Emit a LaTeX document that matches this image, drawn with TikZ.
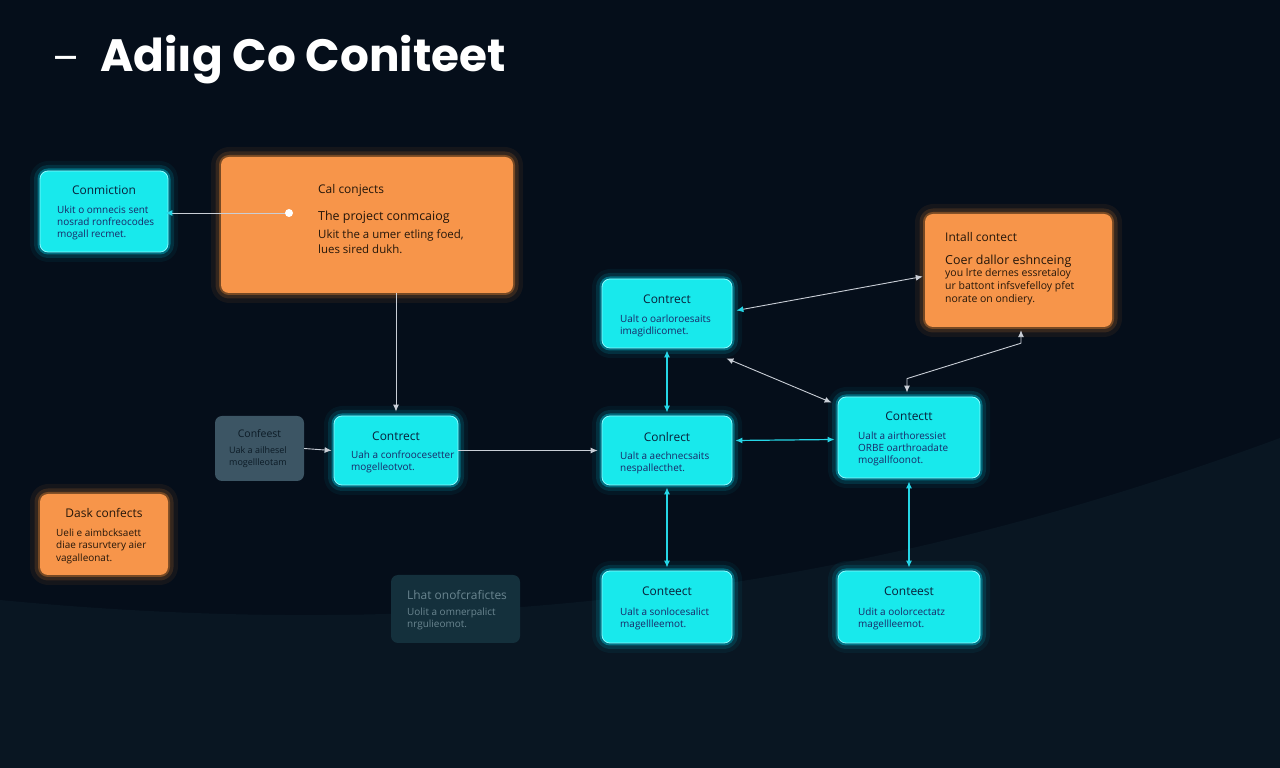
\documentclass[tikz,border=0pt]{standalone}
\usepackage{fontspec}
\setmainfont{Open Sans}
\newfontfamily\titlefont{Poppins}
\usetikzlibrary{arrows.meta}

\definecolor{bgnavy}{HTML}{050E1A}
\definecolor{bgwave}{HTML}{091622}
\definecolor{cyanfill}{HTML}{18E9EC}
\definecolor{cyanedge}{HTML}{8AFBFF}
\definecolor{cyanglow}{HTML}{00C8E0}
\definecolor{orangefill}{HTML}{F7954A}
\definecolor{orangeglow}{HTML}{F28A30}
\definecolor{slatefill}{HTML}{3C5564}
\definecolor{deepfill}{HTML}{14303C}
\definecolor{inkdark}{HTML}{08203A}
\definecolor{inkblue}{HTML}{182868}
\definecolor{inkbrown}{HTML}{24160A}
\definecolor{inkslate}{HTML}{0C1B26}
\definecolor{inkmuted}{HTML}{6A8590}
\definecolor{wirewhite}{HTML}{C9CED6}
\definecolor{wirecyan}{HTML}{25D6E6}

\begin{document}
\begin{tikzpicture}[>={Latex[length=7bp,width=6bp]},line join=bevel,
  cyanbox/.style={rounded corners=8bp,fill=cyanfill,draw=cyanedge,line width=0.8bp,inner sep=0pt,
    preaction={draw=cyanglow,line width=20bp,opacity=0.06},
    preaction={draw=cyanglow,line width=12bp,opacity=0.14},
    preaction={draw=cyanglow,line width=5bp,opacity=0.4}},
  orangebox/.style={rounded corners=8bp,fill=orangefill,inner sep=0pt,
    preaction={draw=orangeglow,line width=20bp,opacity=0.07},
    preaction={draw=orangeglow,line width=11bp,opacity=0.15},
    preaction={draw=orangeglow,line width=4bp,opacity=0.35}},
  slatebox/.style={rounded corners=7bp,fill=slatefill,inner sep=0pt},
  deepbox/.style={rounded corners=7bp,fill=deepfill,inner sep=0pt},
  boxtitle/.style={inner sep=0pt,font=\fontsize{12}{13}\selectfont},
  boxbody/.style={anchor=west,align=left,inner sep=0pt,font=\fontsize{10}{12}\selectfont},
  wire/.style={draw=wirewhite,line width=0.9bp},
  cyanwire/.style={draw=wirecyan,line width=1.2bp},
]
%%
\useasboundingbox (0,0) rectangle (1280bp,768bp);
\fill[bgnavy] (0,0) rectangle (1280bp,768bp);
\fill[bgwave] (0,0) -- (0bp,168bp) .. controls (500bp,120bp) and (900bp,190bp) .. (1280bp,330bp) -- (1280bp,0) -- cycle;
%
\node (title-dash) at (66bp,704bp) [inner sep=0pt,text=white,font=\titlefont\fontsize{40}{44}\selectfont] {–};
\node (title) at (100bp,696bp) [anchor=base west,inner sep=0pt,text=white,font=\titlefont\bfseries\fontsize{45.5}{48}\selectfont] {Adiıg Co Coniteet};
%
\node (conmiction) at (104bp,556.5bp) [cyanbox,minimum width=128bp,minimum height=81bp] {};
  \node (conmiction-t) at (104bp,578bp) [boxtitle,text=inkdark] {Conmiction};
  \node (conmiction-b) at (57bp,545bp) [boxbody,text=inkblue] {Ukit o omnecis sent\\nosrad ronfreocodes\\mogall recmet.};
\node (calconj) at (367bp,543bp) [orangebox,minimum width=292bp,minimum height=136bp] {};
  \node (calconj-t) at (318bp,578bp) [boxtitle,anchor=west,text=inkbrown,font=\fontsize{12}{13}\selectfont] {Cal conjects};
  \node (calconj-h) at (318bp,551bp) [boxtitle,anchor=west,text=inkbrown,font=\fontsize{12.5}{14}\selectfont] {The project conmcaiog};
  \node (calconj-b) at (318bp,526.5bp) [boxbody,text=inkbrown,font=\fontsize{11.5}{15}\selectfont] {Ukit the a umer etling foed,\\lues sired dukh.};
\node (intall) at (1018.5bp,497.5bp) [orangebox,minimum width=187bp,minimum height=113bp] {};
  \node (intall-t) at (945bp,531bp) [boxtitle,anchor=west,text=inkbrown,font=\fontsize{12}{13}\selectfont] {Intall contect};
  \node (intall-h) at (945bp,507bp) [boxtitle,anchor=west,text=inkbrown,font=\fontsize{12.5}{14}\selectfont] {Coer dallor eshnceing};
  \node (intall-b) at (945bp,481bp) [boxbody,text=inkbrown,font=\fontsize{10.5}{13}\selectfont] {you lrte dernes essretaloy\\ur battont infsvefelloy pfet\\norate on ondiery.};
\node (contrect-a) at (667bp,454.5bp) [cyanbox,minimum width=130bp,minimum height=69bp] {};
  \node (contrect-a-t) at (667bp,469bp) [boxtitle,text=inkdark] {Contrect};
  \node (contrect-a-b) at (620bp,442bp) [boxbody,text=inkblue] {Ualt o oarloroesaits\\imagidlicomet.};
\node (confeest) at (259.5bp,319.5bp) [slatebox,minimum width=89bp,minimum height=65bp] {};
  \node (confeest-t) at (259.5bp,334bp) [boxtitle,text=inkslate,font=\fontsize{10.5}{12}\selectfont] {Confeest};
  \node (confeest-b) at (229bp,311bp) [boxbody,text=inkslate,font=\fontsize{9}{12}\selectfont] {Uak a ailhesel\\mogellleotam};
\node (contrect-b) at (396bp,317.5bp) [cyanbox,minimum width=124bp,minimum height=69bp] {};
  \node (contrect-b-t) at (396bp,332bp) [boxtitle,text=inkdark] {Contrect};
  \node (contrect-b-b) at (351bp,306bp) [boxbody,text=inkblue] {Uah a confroocesetter\\mogelleotvot.};
\node (conlrect) at (667bp,317.5bp) [cyanbox,minimum width=130bp,minimum height=69bp] {};
  \node (conlrect-t) at (667bp,331bp) [boxtitle,text=inkdark] {Conlrect};
  \node (conlrect-b) at (620bp,305bp) [boxbody,text=inkblue] {Ualt a aechnecsaits\\nespallecthet.};
\node (contectt) at (909bp,330.5bp) [cyanbox,minimum width=142bp,minimum height=81bp] {};
  \node (contectt-t) at (909bp,352bp) [boxtitle,text=inkdark] {Contectt};
  \node (contectt-b) at (858bp,319bp) [boxbody,text=inkblue] {Ualt a airthoressiet\\ORBE oarthroadate\\mogallfoonot.};
\node (dask) at (104bp,233.5bp) [orangebox,minimum width=128bp,minimum height=81bp] {};
  \node (dask-t) at (104bp,255bp) [boxtitle,text=inkbrown] {Dask confects};
  \node (dask-b) at (56bp,222bp) [boxbody,text=inkbrown,font=\fontsize{10}{12.5}\selectfont] {Ueli e aimbcksaett\\diae rasurvtery aier\\vagalleonat.};
\node (lhat) at (455.5bp,159bp) [deepbox,minimum width=129bp,minimum height=68bp] {};
  \node (lhat-t) at (407bp,173bp) [boxtitle,anchor=west,text=inkmuted] {Lhat onofcrafictes};
  \node (lhat-b) at (407bp,149bp) [boxbody,text=inkmuted] {Uolit a omnerpalict\\nrgulieomot.};
\node (conteect) at (667bp,161bp) [cyanbox,minimum width=130bp,minimum height=72bp] {};
  \node (conteect-t) at (667bp,177bp) [boxtitle,text=inkdark] {Conteect};
  \node (conteect-b) at (620bp,149bp) [boxbody,text=inkblue] {Ualt a sonlocesalict\\magellleemot.};
\node (conteest) at (909bp,161bp) [cyanbox,minimum width=142bp,minimum height=72bp] {};
  \node (conteest-t) at (909bp,177bp) [boxtitle,text=inkdark] {Conteest};
  \node (conteest-b) at (858bp,149bp) [boxbody,text=inkblue] {Udit a oolorcectatz\\magellleemot.};
%
\coordinate (calconj-dot) at (289bp,555bp);
  \draw [wire,-{Latex[length=7bp,width=6bp,color=wirecyan]}] (calconj-dot) -- ([xshift=-3bp]conmiction.east |- calconj-dot);
  \fill [white] (calconj-dot) circle (4bp);
  \draw [wire,->] (contrect-b.north |- calconj.south) -- ([yshift=4bp]contrect-b.north);
  \draw [wire,->] (confeest.east) -- ([xshift=-2bp]contrect-b.west);
  \draw [wire,->] (contrect-b.east) -- ([xshift=-4bp]conlrect.west);
  \draw [cyanwire,<->] ([yshift=-2bp]contrect-a.south) -- ([yshift=3bp]conlrect.north);
  \draw [cyanwire,<->] ([yshift=-2bp]conlrect.south) -- ([yshift=3bp]conteect.north);
  \draw [cyanwire,<->] ([shift={(3bp,10bp)}]conlrect.east) -- ([shift={(-3bp,-2bp)}]contectt.west);
  \draw [wire,{Latex[length=7bp,width=6bp,color=wirecyan]}-{Latex[length=7bp,width=6bp]}] ([shift={(4bp,3bp)}]contrect-a.east) -- ([shift={(-2bp,-6bp)}]intall.west);
  \draw [wire,<->] ([shift={(-6bp,-10bp)}]contrect-a.south east) -- ([shift={(-6bp,-6bp)}]contectt.north west);
  \draw [wire,<->] ([xshift=-2bp,yshift=4bp]contectt.north) -- ++(0,14bp) -- ([xshift=2.5bp,yshift=-16bp]intall.south) -- ([xshift=2.5bp,yshift=-3bp]intall.south);
  \draw [cyanwire,<->] ([yshift=-3bp]contectt.south) -- ([yshift=3bp]conteest.north);
%
\end{tikzpicture}
\end{document}
